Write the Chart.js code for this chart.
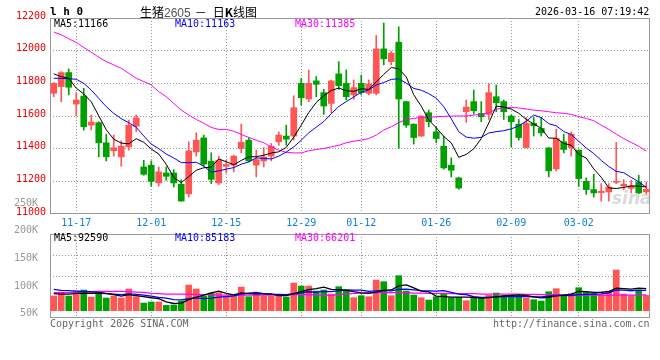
<!DOCTYPE html>
<html>
<head>
<meta charset="utf-8">
<script src="https://cdn.jsdelivr.net/npm/chart.js@4.4.1/dist/chart.umd.min.js"></script>
<style>
  body { margin: 0; background: #fff; }
  #wrap { position: relative; width: 660px; height: 360px; overflow: hidden; font-family: "DejaVu Sans Mono", monospace; font-size: 10px; }
  canvas { position: absolute; left: 0; top: 0; }
  .t { position: absolute; white-space: nowrap; line-height: 12px; }
</style>
</head>
<body>
<div id="wrap">
  <canvas id="kline" width="660" height="360"></canvas>
  <canvas id="vol" width="660" height="360"></canvas>

  <div class="t" style="left:50px;top:5px;font-weight:bold;font-size:11px;line-height:13px;">l h 0</div>
  <div class="t" style="left:140px;top:3px;font-family:'Noto Sans CJK SC';font-size:12px;line-height:17px;">生猪<span style="color:#555;font-family:'Liberation Sans';">2605</span><span style="margin-left:4px;margin-right:6px;">－</span>日<b>K</b>线图</div>
  <div class="t" style="left:535px;top:6px;">2026-03-16 07:19:42</div>

  <div class="t" style="left:54px;top:18px;color:#000;">MA5:11166</div>
  <div class="t" style="left:175px;top:18px;color:#0000ff;">MA10:11163</div>
  <div class="t" style="left:295px;top:18px;color:#ff00ff;">MA30:11385</div>

  <div class="t" style="left:612px;top:188px;font-family:'DejaVu Sans';font-weight:bold;font-style:italic;font-size:17px;line-height:20px;color:rgba(160,160,160,0.4);">sina</div>

  <div class="t" style="left:54px;top:232px;color:#000;">MA5:92590</div>
  <div class="t" style="left:175px;top:232px;color:#0000ff;">MA10:85183</div>
  <div class="t" style="left:295px;top:232px;color:#ff00ff;">MA30:66201</div>

  <div class="t" style="left:50px;top:318px;color:#666;">Copyright 2026 SINA.COM</div>
  <div class="t" style="left:493px;top:318px;color:#666;">http://finance.sina.com.cn</div>
</div>

<script>
// 日期 (交易日)
const dates = [
  '11-12','11-13','11-14',
  '11-17','11-18','11-19','11-20','11-21',
  '11-24','11-25','11-26','11-27','11-28',
  '12-01','12-02','12-03','12-04','12-05',
  '12-08','12-09','12-10','12-11','12-12',
  '12-15','12-16','12-17','12-18','12-19',
  '12-22','12-23','12-24','12-25','12-26',
  '12-29','12-30','12-31',
  '01-05','01-06','01-07','01-08','01-09',
  '01-12','01-13','01-14','01-15','01-16',
  '01-19','01-20','01-21','01-22','01-23',
  '01-26','01-27','01-28','01-29','01-30',
  '02-02','02-03','02-04','02-05','02-06',
  '02-09','02-10','02-11','02-12','02-13',
  '02-24','02-25','02-26','02-27',
  '03-02','03-03','03-04','03-05','03-06',
  '03-09','03-10','03-11','03-12','03-13'
];
const tickLabels = ['11-17','12-01','12-15','12-29','01-12','01-26','02-09','03-02'];
const priceTicks = [11000, 11200, 11400, 11600, 11800, 12000, 12200];
const volTickLabels = ['50K','100K','150K','200K','250K'];
const volTickValues = [50000, 100000, 150000, 200000, 250000];

// K线
const opens = [11739,11780,11866,11673,11722,11544,11559,11436,11387,11350,
  11411,11538,11288,11299,11190,11251,11251,11182,11124,11380,
  11466,11323,11190,11292,11299,11401,11452,11299,11325,11354,
  11442,11477,11477,11800,11704,11815,11743,11677,11858,11800,
  11729,11800,11739,11739,12011,11933,12052,11688,11550,11477,
  11620,11503,11415,11299,11221,11626,11688,11616,11610,11718,
  11688,11600,11550,11407,11555,11524,11405,11276,11442,11407,
  11391,11200,11149,11131,11135,11194,11172,11157,11196,11135];
const highs = [11805,11872,11888,11743,11770,11606,11565,11489,11483,11448,
  11575,11606,11329,11325,11288,11288,11272,11210,11442,11497,
  11483,11374,11354,11329,11360,11550,11468,11391,11407,11432,
  11503,11544,11724,11831,11882,11841,11763,11820,11933,11882,
  11821,11851,11821,12093,12169,11995,12146,11690,11552,11602,
  11636,11534,11477,11344,11225,11698,11759,11688,11800,11790,
  11698,11606,11579,11591,11591,11591,11407,11520,11489,11503,
  11393,11221,11243,11186,11186,11438,11210,11206,11237,11196];
const lows = [11718,11688,11729,11600,11514,11514,11350,11325,11354,11292,
  11391,11503,11237,11170,11172,11206,11165,11079,11104,11354,
  11292,11186,11180,11251,11258,11374,11319,11227,11288,11325,
  11421,11421,11452,11667,11688,11718,11610,11620,11763,11698,
  11702,11729,11729,11729,11913,11913,11401,11530,11428,11475,
  11534,11436,11274,11227,11151,11561,11612,11565,11579,11626,
  11579,11411,11452,11405,11477,11477,11227,11264,11374,11354,
  11170,11120,11104,11079,11079,11186,11149,11129,11124,11124];
const closes = [11800,11866,11776,11698,11534,11563,11436,11350,11405,11415,
  11544,11589,11243,11200,11258,11231,11190,11079,11387,11452,
  11305,11212,11329,11303,11354,11440,11325,11333,11350,11415,
  11483,11458,11651,11712,11800,11794,11661,11815,11786,11718,
  11774,11743,11796,12011,11950,11985,11704,11544,11468,11600,
  11565,11462,11282,11268,11159,11655,11632,11595,11743,11681,
  11626,11565,11468,11555,11540,11497,11264,11462,11395,11489,
  11217,11149,11129,11139,11165,11200,11182,11172,11129,11151];

// 均线
const ma5 = [11858,11841,11831,11770,11735,11687,11601,11516,11458,11434,
  11430,11461,11439,11398,11367,11304,11224,11192,11229,11268,
  11283,11287,11337,11320,11301,11328,11350,11351,11360,11373,
  11381,11408,11471,11544,11621,11683,11724,11756,11771,11755,
  11751,11767,11763,11808,11855,11897,11889,11839,11730,11660,
  11576,11528,11475,11435,11347,11365,11399,11462,11557,11661,
  11655,11642,11617,11579,11551,11525,11465,11464,11432,11421,
  11365,11342,11276,11225,11160,11156,11163,11172,11170,11166];
const ma10 = [11831,11830,11828,11825,11800,11759,11708,11657,11616,11584,
  11559,11531,11478,11428,11400,11367,11343,11315,11314,11317,
  11293,11256,11264,11275,11284,11305,11319,11344,11340,11337,
  11354,11379,11411,11452,11497,11532,11566,11614,11658,11688,
  11717,11745,11760,11790,11805,11824,11828,11801,11769,11758,
  11737,11709,11657,11583,11504,11471,11464,11469,11496,11504,
  11510,11521,11539,11568,11606,11590,11553,11540,11505,11486,
  11445,11404,11370,11328,11291,11261,11253,11224,11197,11163];
const ma30 = [12114,12097,12073,12050,12020,11990,11960,11933,11913,11892,
  11862,11831,11811,11790,11749,11718,11677,11636,11606,11579,
  11555,11530,11518,11518,11507,11487,11469,11452,11436,11411,
  11391,11378,11374,11374,11387,11395,11401,11411,11421,11436,
  11446,11452,11462,11483,11514,11534,11559,11579,11585,11591,
  11591,11596,11598,11600,11600,11600,11606,11610,11620,11641,
  11649,11653,11649,11643,11636,11632,11626,11620,11616,11610,
  11596,11585,11571,11544,11518,11489,11462,11438,11415,11385];

// 成交量
const volumes = [61600,78400,61600,82600,86800,57400,79800,53200,61600,53200,
  91000,58800,32200,36400,36400,22400,23800,40600,107800,91000,
  61600,74200,75600,61600,61600,99400,58800,72800,61600,61600,
  61600,57400,116200,103600,103600,82600,86800,70000,100800,86800,
  54600,63000,58800,128800,121800,63000,147000,82600,65800,54600,
  44800,58800,72800,54600,56000,42000,54600,56000,64400,74200,
  63000,65800,63000,53200,46200,40600,79800,92400,63000,71400,
  96600,78400,75600,65800,82600,170800,70000,64400,86800,64400];
const volMa5 = [71400,70000,70000,72800,74200,73360,73640,71960,67760,61040,
  67760,63560,59360,54320,50960,37240,30240,31920,46200,57120,
  64960,75040,82040,72800,66920,74480,71400,70840,70840,70840,
  63280,63000,71680,80080,88480,92680,98560,89320,88760,85400,
  79800,75040,72800,78400,85400,87080,103880,108640,96040,82600,
  78960,61320,59360,57120,57400,56840,56000,52640,54600,58240,
  62440,64680,66080,63840,58240,53760,56560,62440,64400,69440,
  80640,80360,77000,77560,79800,94640,92960,90720,94920,92590];
const volMa10 = [89600,85400,84000,82600,81200,79800,77000,72800,70000,67620,
  70560,68600,65660,61040,56000,52500,46900,45640,50260,54040,
  51100,52640,56980,59500,62020,69720,73220,76440,71820,68880,
  68880,67200,71260,75460,79660,77980,80780,80500,84420,86940,
  86240,86800,81060,83580,85400,83440,89460,90720,87220,84000,
  83020,82600,84000,76580,70000,67900,58660,56000,55860,57820,
  59640,60340,59360,59220,58240,58100,60620,64260,64120,63840,
  67200,68460,69720,70980,74620,87640,86660,83860,86240,85183];
const volMa30 = [75600,75600,75600,77000,78400,79800,81200,81200,81200,81200,
  79800,78400,77000,72800,71400,70000,70000,70000,68600,68600,
  67200,67200,65800,65800,65800,65800,65800,65800,65800,65800,
  65800,65800,67200,67200,67200,65800,65800,64400,67200,70000,
  72800,74200,75600,75600,75600,75600,75600,75600,74200,74200,
  72800,72800,72800,71400,71400,71400,71400,70000,70000,70000,
  70000,70000,70000,68600,68600,67200,67200,67200,67200,67200,
  65800,65800,65800,65800,64400,65800,65800,65800,65800,66201];

const RED = '#ff5555';
const GREEN = '#00a000';
const GRID = '#999999';
const NONE = 'rgba(0,0,0,0)';
const candleColors = closes.map((c, i) => c >= opens[i] ? RED : GREEN);
const isTick = i => tickLabels.includes(dates[i]);

Chart.defaults.font.family = '"DejaVu Sans Mono", monospace';
Chart.defaults.font.size = 10;
Chart.defaults.animation = false;

// 面板边框
const framePlugin = {
  id: 'frame',
  beforeDatasetsDraw(chart) {
    const { ctx, chartArea: a } = chart;
    ctx.save();
    ctx.strokeStyle = '#999';
    ctx.lineWidth = 1;
    ctx.strokeRect(Math.round(a.left) + 0.5, Math.round(a.top) + 0.5,
      Math.round(a.right - a.left) - 1, Math.round(a.bottom - a.top) - 1);
    ctx.restore();
  }
};

const lineDs = (label, data, color, width, axis) => ({
  type: 'line', label, data, borderColor: color, borderWidth: width,
  pointRadius: 0, tension: 0, order: 0, yAxisID: axis
});

const xAxis = showLabels => ({
  offset: true,
  grid: { offset: false, drawTicks: false, lineWidth: 1, color: ctx => (ctx.tick && isTick(ctx.tick.value)) ? GRID : NONE },
  border: { display: false, dash: [1, 2] },
  ticks: {
    display: showLabels, autoSkip: false, maxRotation: 0, padding: 3, color: '#0f7fd9',
    callback: (v, i) => isTick(i) ? dates[i] : ''
  },
  afterFit: s => { s.height = showLabels ? 20 : 0; }
});

// K线图
new Chart(document.getElementById('kline'), {
  type: 'bar',
  data: {
    labels: dates,
    datasets: [
      lineDs('MA5', ma5, '#000000', 1, 'y'),
      lineDs('MA10', ma10, '#0000ff', 1, 'y'),
      lineDs('MA30', ma30, '#ff00ff', 1, 'y'),
      {
        label: 'body', data: opens.map((o, i) => [o, closes[i]]),
        backgroundColor: candleColors, barThickness: 6, grouped: false, minBarLength: 1, order: 1
      },
      {
        label: 'wick', data: lows.map((l, i) => [l, highs[i]]),
        backgroundColor: candleColors, barThickness: 1, grouped: false, order: 2
      }
    ]
  },
  options: {
    responsive: false,
    layout: { padding: { top: 18, right: 10, bottom: 126, left: 0 } },
    plugins: { legend: { display: false }, tooltip: { enabled: false } },
    scales: {
      x: xAxis(true),
      y: {
        min: 11000, max: 12200,
        afterBuildTicks: s => { s.ticks = priceTicks.map(v => ({ value: v })); },
        ticks: { padding: 4, color: '#ee0000', labelOffset: -2, callback: v => String(v) },
        grid: { drawTicks: false, color: ctx => (ctx.tick && ctx.tick.value > 11000 && ctx.tick.value < 12200) ? GRID : NONE },
        border: { display: false, dash: [1, 2] },
        afterFit: s => { s.width = 50; }
      }
    }
  },
  plugins: [framePlugin]
});

// 成交量
new Chart(document.getElementById('vol'), {
  type: 'bar',
  data: {
    labels: dates,
    datasets: [
      lineDs('MA5', volMa5, '#000000', 1.3, 'y'),
      lineDs('MA10', volMa10, '#0000ff', 1.3, 'y'),
      lineDs('MA30', volMa30, '#ff00ff', 1.3, 'y'),
      { label: 'vol', data: volumes, backgroundColor: candleColors, barThickness: 6, order: 1, yAxisID: 'y' }
    ]
  },
  options: {
    responsive: false,
    layout: { padding: { top: 234, right: 10, bottom: 42, left: 0 } },
    plugins: { legend: { display: false }, tooltip: { enabled: false } },
    scales: {
      x: xAxis(false),
      y: { display: false, min: -30660, max: 322140 },
      yl: {
        position: 'left', bounds: 'data', min: 42600, max: 194200,
        afterBuildTicks: s => { s.ticks = volTickValues.map(v => ({ value: v })); },
        ticks: { padding: 4, color: '#999', callback: (v, i) => volTickLabels[i] },
        grid: { display: false },
        border: { display: false },
        afterFit: s => { s.width = 50; }
      },
      yg: {
        position: 'right', min: 0, max: 4,
        ticks: { display: false, stepSize: 1 },
        grid: { drawTicks: false, color: ctx => (ctx.tick && (ctx.tick.value === 2 || ctx.tick.value === 3)) ? GRID : NONE },
        border: { display: false, dash: [1, 2] },
        afterFit: s => { s.width = 0; }
      }
    }
  },
  plugins: [framePlugin]
});
</script>
</body>
</html>
